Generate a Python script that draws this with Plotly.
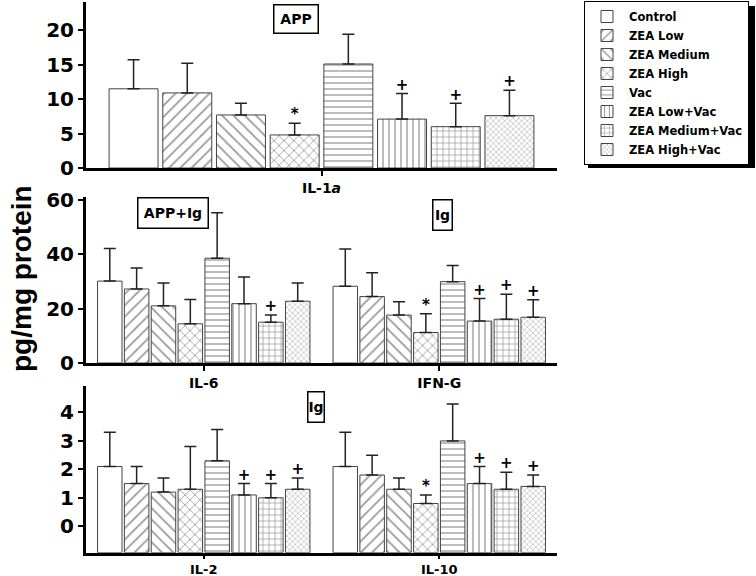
import plotly.graph_objects as go
import numpy as np

W, H = 756, 576

groups = ["Control", "ZEA Low", "ZEA Medium", "ZEA High", "Vac",
          "ZEA Low+Vac", "ZEA Medium+Vac", "ZEA High+Vac"]

# Panel 1 (APP): IL-1a
il1a_vals = [11.5, 10.9, 7.7, 4.8, 15.1, 7.1, 6.0, 7.6]
il1a_sd = [4.2, 4.3, 1.7, 1.7, 4.3, 3.7, 3.4, 3.7]
il1a_mark = ["", "", "", "*", "", "+", "+", "+"]

# Panel 2: IL-6 (APP+Ig) and IFN-G (Ig)
il6_vals = [30.1, 27.2, 21.0, 14.4, 38.5, 21.8, 15.0, 22.7]
il6_sd = [12.0, 7.7, 8.4, 8.9, 16.7, 9.8, 2.6, 6.7]
il6_mark = ["", "", "", "", "", "", "+", ""]
ifng_vals = [28.2, 24.4, 17.6, 11.2, 29.9, 15.4, 16.1, 16.8]
ifng_sd = [13.7, 8.8, 4.9, 6.9, 5.9, 8.3, 9.2, 6.4]
ifng_mark = ["", "", "", "*", "", "+", "+", "+"]

# Panel 3 (Ig): IL-2 and IL-10
il2_vals = [2.1, 1.5, 1.2, 1.3, 2.3, 1.1, 1.0, 1.3]
il2_sd = [1.2, 0.6, 0.5, 1.5, 1.1, 0.4, 0.5, 0.4]
il2_mark = ["", "", "", "", "", "+", "+", "+"]
il10_vals = [2.1, 1.8, 1.3, 0.8, 3.0, 1.5, 1.3, 1.4]
il10_sd = [1.2, 0.7, 0.4, 0.3, 1.3, 0.6, 0.6, 0.4]
il10_mark = ["", "", "", "*", "", "+", "+", "+"]

panel1_cats = ["IL-1<i>a</i>"]
panel2_cats = ["IL-6", "IFN-G"]
panel3_cats = ["IL-2", "IL-10"]

# styles
shapes_pat = ["", "/", "\\", "x", "-", "|", "+", "x"]
pat_size = [8, 8, 8, 7, 6, 6, 6, 4]

FB = "DejaVu Sans"
STEP = 0.114
BW = 0.104

def px(x):
    return x / W

def py(y):
    return 1 - y / H

fig = go.Figure()

panels = [
    ("x", "y", [il1a_vals], [il1a_sd], [il1a_mark], 0.0),
    ("x2", "y2", [il6_vals, ifng_vals], [il6_sd, ifng_sd], [il6_mark, ifng_mark], 0.0),
    ("x3", "y3", [il2_vals, il10_vals], [il2_sd, il10_sd], [il2_mark, il10_mark], -0.93),
]

for pi, (xa, ya, vals_list, sd_list, mark_list, base) in enumerate(panels):
    ncat = len(vals_list)
    for gi, g in enumerate(groups):
        xs = [c + (gi - 3.5) * STEP for c in range(ncat)]
        vals = np.array([v[gi] for v in vals_list])
        sds = [s[gi] for s in sd_list]
        fig.add_trace(go.Bar(
            x=xs, y=vals - base, base=base, width=BW,
            name=g, showlegend=(pi == 0),
            xaxis=xa, yaxis=ya,
            marker=dict(color="white",
                        line=dict(color="#444", width=1),
                        pattern=dict(shape=shapes_pat[gi], size=pat_size[gi],
                                     solidity=0.22, fgcolor="#333")),
            error_y=dict(type="data", symmetric=False, array=sds,
                         arrayminus=[0] * ncat, color="#222",
                         thickness=1.5, width=6),
        ))
        marks = [m[gi] for m in mark_list]
        tops = [vals[k] + sds[k] for k in range(ncat)]
        fig.add_trace(go.Scatter(
            x=xs, y=tops, mode="text", text=marks, textposition="top center",
            textfont=dict(family=FB, size=15, color="black", weight="bold"),
            xaxis=xa, yaxis=ya, showlegend=False, hoverinfo="skip",
        ))

xdom = [px(86), px(557)]
tickfont = dict(family=FB, size=20, color="black", weight="bold")

def xax(dom_anchor, cats, rng, tl=5, fs=14):
    return dict(domain=xdom, anchor=dom_anchor, range=rng, automargin=False,
                tickvals=list(range(len(cats))), ticktext=cats,
                showline=True, linecolor="black", linewidth=3,
                ticks="outside", ticklen=tl, tickwidth=2, tickcolor="black",
                tickfont=dict(family=FB, size=fs, color="black", weight="bold"),
                showgrid=False, zeroline=False, fixedrange=True)

def yax(dom, rng, dtick, anchor):
    return dict(domain=dom, anchor=anchor, range=rng, dtick=dtick, tick0=0,
                automargin=False,
                showline=True, linecolor="black", linewidth=3,
                ticks="outside", ticklen=5, tickwidth=2, tickcolor="black",
                tickfont=tickfont, showgrid=False, zeroline=False, fixedrange=True)

fig.update_layout(
    width=W, height=H,
    margin=dict(l=0, r=0, t=0, b=0, autoexpand=False),
    paper_bgcolor="white", plot_bgcolor="white",
    barmode="overlay",
    xaxis=xax("y", panel1_cats, [-0.5, 0.5]),
    xaxis2=xax("y2", panel2_cats, [-0.5, 1.5]),
    xaxis3=xax("y3", panel3_cats, [-0.5, 1.5], tl=3, fs=13),
    yaxis=yax([py(168), py(2)], [0, 24.1], 5, "x"),
    yaxis2=yax([py(363), py(197)], [0, 61], 20, "x2"),
    yaxis3=yax([py(552.7), py(386)], [-0.93, 4.93], 1, "x3"),
    legend=dict(x=px(584), y=py(1), xanchor="left", yanchor="top",
                bgcolor="white", bordercolor="black", borderwidth=1,
                font=dict(family=FB, size=11.5, color="black", weight="bold"),
                tracegroupgap=0, itemwidth=34),
    showlegend=True,
)

# legend drop shadow
fig.add_shape(type="rect", xref="paper", yref="paper",
              x0=px(588), x1=px(755), y0=py(168), y1=py(6),
              fillcolor="black", line=dict(width=0), layer="below")

def boxlabel(text, cx, cy, w, h):
    fig.add_annotation(xref="paper", yref="paper", x=px(cx), y=py(cy),
                       xanchor="center", yanchor="middle", text=text,
                       showarrow=False, width=w - 3, height=h - 3,
                       bordercolor="black", borderwidth=1.5, borderpad=0,
                       bgcolor="white",
                       font=dict(family=FB, size=14, color="black", weight="bold"))

boxlabel("APP", 296, 19, 46, 30)
boxlabel("APP+Ig", 172.5, 213, 72, 32)
boxlabel("Ig", 443, 215, 21, 32)
boxlabel("Ig", 316, 407, 18, 32)

fig.add_annotation(xref="paper", yref="paper", x=px(21), y=py(279),
                   xanchor="center", yanchor="middle", text="pg/mg protein",
                   textangle=-90, showarrow=False,
                   font=dict(family="Liberation Sans", size=28, color="black", weight="bold"))

fig.write_html("out.html", config={"displayModeBar": False},
               post_script="document.body.style.margin='0';document.body.style.overflow='hidden';")
